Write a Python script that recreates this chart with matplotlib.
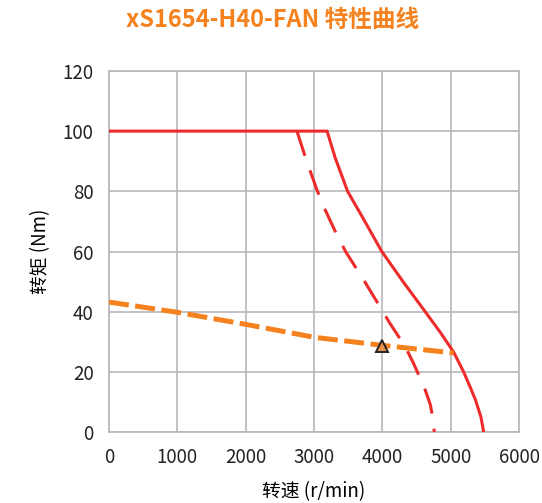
import numpy as np
import matplotlib
matplotlib.use("Agg")
import matplotlib.pyplot as plt

plt.rcParams["font.family"] = ["Noto Sans CJK SC", "DejaVu Sans"]
plt.rcParams["axes.unicode_minus"] = False

# 连续工作区（实线）
speed_solid = [0, 3190, 3309, 3490, 3715, 3990, 4310, 4625, 4850, 5040, 5187, 5300, 5360, 5440, 5480]
torque_solid = [100, 100, 91.1, 80, 71.1, 60, 49.7, 40, 33, 26.6, 20, 14, 10.7, 5, 0]

# 短时工作区（虚线）
speed_dash = [2750, 2820, 2909, 3041, 3138, 3309, 3460, 3740, 4007, 4110, 4333, 4455, 4616, 4700, 4733, 4758]
torque_dash = [100, 95, 88.9, 80.5, 75, 66.7, 60, 50, 40, 36.1, 28.4, 22.8, 14.6, 9.1, 5, 0]

# 风扇负载曲线
speed_fan = [0, 1000, 2000, 3000, 3822, 4000, 5040]
torque_fan = [43.2, 39.8, 35.8, 31.5, 29.3, 28.8, 26.3]

# 工作点
op_speed = [4000]
op_torque = [28.5]

red = "#EE2B2B"
orange = "#F5821F"
grid_c = "#B8B8BC"

fig = plt.figure(figsize=(5.42, 5.03), dpi=100)
ax = fig.add_axes([0.201, 0.141, 0.757, 0.718])

ax.plot(speed_solid, torque_solid, color=red, linewidth=2.2, solid_joinstyle="round", zorder=3)
ax.plot(speed_dash, torque_dash, color=red, linewidth=2.2, linestyle=(0, (8.5, 5)), zorder=3)
ax.plot(speed_fan, torque_fan, color=orange, linewidth=3.6, linestyle=(0, (4, 1.3)), zorder=3)
ax.plot(op_speed, op_torque, marker="^", markersize=9, markerfacecolor="#E8924A",
        markeredgecolor="#222222", markeredgewidth=1.4, linestyle="none", zorder=4)

ax.set_xlim(0, 6000)
ax.set_ylim(0, 120)
ax.set_xticks(np.arange(0, 6001, 1000))
ax.set_yticks(np.arange(0, 121, 20))
ax.grid(True, color=grid_c, linewidth=1.2)
ax.set_axisbelow(True)
for s in ax.spines.values():
    s.set_color(grid_c)
    s.set_linewidth(1.2)
ax.tick_params(length=0, labelsize=13.5, pad=11, colors="#222222")

ax.set_xlabel("转速 (r/min)", fontsize=13.5, labelpad=9)
ax.set_ylabel("转矩 (Nm)", fontsize=13.5, labelpad=8)
fig.suptitle("xS1654-H40-FAN 特性曲线", x=0.503, y=0.985, fontsize=17,
             fontweight="bold", color=orange)

fig.savefig("out.png", dpi=100)
